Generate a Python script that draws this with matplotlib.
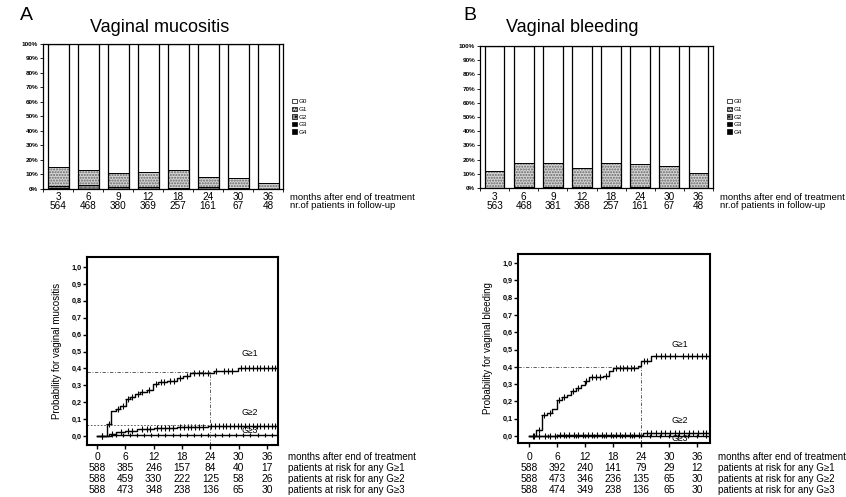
import numpy as np
import matplotlib
matplotlib.use("Agg")
import matplotlib.pyplot as plt
from matplotlib.patches import Patch
from matplotlib.transforms import blended_transform_factory

plt.rcParams['font.family'] = ['Liberation Sans', 'DejaVu Sans']

W, H = 846, 497

# follow-up distribution (% of patients per grade)
months_fu = [3, 6, 9, 12, 18, 24, 30, 36]
muc_n = [564, 468, 380, 369, 257, 161, 67, 48]
muc_g1 = [13.0, 10.5, 9.5, 10.5, 12.0, 7.0, 6.5, 4.0]
muc_g2 = [1.5, 2.5, 1.5, 1.5, 1.0, 1.5, 1.0, 0.0]
muc_g3 = [0.5, 0.0, 0.0, 0.0, 0.0, 0.0, 0.0, 0.0]
muc_g4 = [0.0, 0.0, 0.0, 0.0, 0.0, 0.0, 0.0, 0.0]

bld_n = [563, 468, 381, 368, 257, 161, 67, 48]
bld_g1 = [12.0, 17.0, 17.0, 13.5, 17.5, 16.0, 15.0, 10.5]
bld_g2 = [0.3, 0.4, 0.4, 0.5, 0.4, 0.6, 0.3, 0.2]
bld_g3 = [0.0, 0.0, 0.0, 0.0, 0.0, 0.0, 0.0, 0.0]
bld_g4 = [0.0, 0.0, 0.0, 0.0, 0.0, 0.0, 0.0, 0.0]

# cumulative incidence curves (step times in months, probability)
muc_ge1_t = [0, 2.2, 3.0, 4.0, 4.9, 6.1, 7.0, 8.0, 9.1, 10.5, 11.8, 13.0, 14.8, 16.9, 18.3, 19.7, 24.7, 29.9]
muc_ge1_p = [0, 0.07, 0.15, 0.162, 0.18, 0.221, 0.233, 0.247, 0.262, 0.273, 0.31, 0.318, 0.325, 0.342, 0.358, 0.373, 0.386, 0.403]
muc_ge2_t = [0, 2.5, 4.0, 6.0, 8.5, 12.0, 17.0, 23.5]
muc_ge2_p = [0, 0.015, 0.022, 0.032, 0.04, 0.05, 0.056, 0.062]
muc_ge3_t = [0, 3.0]
muc_ge3_p = [0, 0.004]

bld_ge1_t = [0, 1.6, 2.7, 3.8, 4.9, 5.9, 7.0, 8.1, 8.9, 10.0, 11.1, 11.9, 12.8, 15.8, 17.1, 18.0, 23.3, 24.0, 26.2]
bld_ge1_p = [0, 0.037, 0.123, 0.133, 0.158, 0.206, 0.224, 0.235, 0.262, 0.277, 0.293, 0.316, 0.34, 0.346, 0.374, 0.393, 0.403, 0.432, 0.46]
bld_ge2_t = [0, 6.0, 12.0, 24.5]
bld_ge2_p = [0, 0.004, 0.008, 0.016]
bld_ge3_t = [0, 3.0]
bld_ge3_p = [0, 0.002]

# censoring times
muc_ge1_c = [1.0, 2.6, 4.5, 5.5, 6.6, 7.5, 8.6, 9.6, 11.0, 12.4, 13.6, 14.2, 15.5, 16.2, 17.6, 19.0, 20.5, 21.5,
             22.5, 23.5, 25.3, 26.8, 27.7, 28.6, 30.6, 31.4, 32.2, 33.0, 33.8, 34.6, 35.4, 36.2, 37.0, 37.8]
muc_ge2_c = [1.0, 3.2, 5.0, 6.5, 7.5, 9.5, 10.5, 11.3, 12.6, 13.5, 14.3, 15.2, 16.0, 17.6, 18.4, 19.2, 20.0, 20.8,
             21.6, 22.4, 24.2, 25.0, 25.8, 26.6, 27.4, 28.2, 29.0, 29.8, 30.6, 31.4, 32.2, 33.0, 33.8, 34.6, 35.4,
             36.2, 37.0, 37.8]
muc_ge3_c = [4.0, 5.5, 7.0, 8.5, 10.0, 11.5, 13.0, 14.5, 16.0, 17.5, 19.0, 20.5, 22.0, 23.5, 25.0, 26.5, 28.0,
             29.5, 31.0, 32.5, 34.0, 35.5, 37.0]
bld_ge1_c = [0.8, 2.2, 3.2, 4.4, 6.5, 7.6, 9.5, 10.6, 12.3, 13.6, 14.4, 15.2, 16.5, 18.6, 19.4, 20.2, 21.0, 21.8,
             22.6, 24.6, 25.4, 27.2, 28.2, 29.2, 30.2, 31.2, 33.0, 34.0, 35.0, 36.0, 37.0, 38.0]
bld_ge2_c = [1.0, 2.2, 3.4, 4.6, 5.6, 6.6, 7.6, 8.6, 9.6, 10.6, 11.6, 12.6, 13.6, 14.6, 15.6, 16.6, 17.6, 18.6,
             19.6, 20.6, 21.6, 22.6, 23.6, 25.2, 26.2, 27.2, 28.2, 29.2, 30.2, 31.2, 32.2, 33.2, 34.2, 35.2, 36.2,
             37.2, 38.0]
bld_ge3_c = [4.0, 6.0, 8.0, 10.0, 12.0, 14.0, 16.0, 18.0, 20.0, 22.0, 24.0, 26.0, 28.0, 30.0, 32.0, 34.0, 36.0, 38.0]

km_months = [0, 6, 12, 18, 24, 30, 36]
muc_risk = [[588, 385, 246, 157, 84, 40, 17],
            [588, 459, 330, 222, 125, 58, 26],
            [588, 473, 348, 238, 136, 65, 30]]
bld_risk = [[588, 392, 240, 141, 79, 29, 12],
            [588, 473, 346, 236, 135, 65, 30],
            [588, 474, 349, 238, 136, 65, 30]]
risk_labels = ['patients at risk for any G\u22651', 'patients at risk for any G\u22652',
               'patients at risk for any G\u22653']
grade_labels = ['G0', 'G1', 'G2', 'G3', 'G4']


def px_axes(fig, left, top, right, bottom):
    return fig.add_axes([left / W, 1 - bottom / H, (right - left) / W, (bottom - top) / H])


def ftext(fig, x, y, s, **kw):
    fig.text(x / W, 1 - y / H, s, **kw)


grade_styles = [
    dict(color='white', hatch=None),
    dict(color='#d4d4d4', hatch='......'),
    dict(color='#8c8c8c', hatch='....'),
    dict(color='black', hatch=None),
    dict(color='black', hatch=None),
]


def bar_panel(fig, rect, g1, g2, g3, g4, n, xlim, width, legend_x, label_x):
    ax = px_axes(fig, *rect)
    x = np.arange(len(months_fu))
    g1, g2, g3, g4 = map(np.array, (g1, g2, g3, g4))
    g0 = 100 - g1 - g2 - g3 - g4
    # stacked from the worst grade at the bottom to G0 at the top
    bottom = np.zeros(len(x))
    for vals, st in [(g4, grade_styles[4]), (g3, grade_styles[3]), (g2, grade_styles[2]),
                     (g1, grade_styles[1]), (g0, grade_styles[0])]:
        ax.bar(x, vals, width, bottom=bottom, color=st['color'], hatch=st['hatch'],
               edgecolor='#666666', linewidth=0)
        ax.bar(x, vals, width, bottom=bottom, fill=False, edgecolor='black', linewidth=0.6)
        bottom = bottom + vals
    ax.bar(x, 100, width, fill=False, edgecolor='black', linewidth=0.9)
    ax.set_xlim(*xlim)
    ax.set_ylim(0, 100)
    ax.set_yticks(np.arange(0, 101, 10))
    ax.set_yticklabels([f'{v}%' for v in range(0, 101, 10)], fontsize=4.6, fontweight='bold')
    ax.set_xticks(np.arange(-0.5, len(x), 1.0))
    ax.set_xticklabels([])
    ax.tick_params(axis='both', direction='out', length=2.5, width=0.6, pad=1)
    for s in ax.spines.values():
        s.set_linewidth(0.9)
    trans = blended_transform_factory(ax.transData, fig.transFigure)
    for xi, m, c in zip(x, months_fu, n):
        ax.text(xi, 1 - 197 / H, str(m), transform=trans, ha='center', va='center', fontsize=7.2)
        ax.text(xi, 1 - 206 / H, str(c), transform=trans, ha='center', va='center', fontsize=7.2)
    ftext(fig, label_x, 197, 'months after end of treatment', ha='left', va='center', fontsize=6.8)
    ftext(fig, label_x, 206, 'nr.of patients in follow-up', ha='left', va='center', fontsize=6.8)
    handles = [Patch(facecolor=st['color'], hatch=st['hatch'], edgecolor='black', linewidth=0.5)
               for st in grade_styles]
    fig.legend(handles, grade_labels, loc='upper left', bbox_to_anchor=(legend_x / W, 1 - 96 / H),
               frameon=False, fontsize=4.5, handlelength=0.7, handleheight=0.7, handletextpad=0.3,
               labelspacing=0.35, borderpad=0)
    return ax


def km_panel(fig, rect, xlim, ylim, curves, ref_hi, ref_lo, lab_y, risk, ylabel, label_x, ylabel_x):
    ax = px_axes(fig, *rect)
    for t, p, c, ms in curves:
        t = np.array(t)
        p = np.array(p)
        ax.step(np.append(t, xlim[1]), np.append(p, p[-1]), where='post', color='black', lw=1.0)
        c = np.array(c)
        pc = p[np.searchsorted(t, c, side='right') - 1]
        ax.plot(c, pc, ls='none', marker='+', color='black', ms=ms, mew=0.8)
    # reference lines at 24 months
    ax.plot([xlim[0], 24], [ref_hi, ref_hi], color='#444444', lw=0.6, ls=(0, (4, 2, 1, 2)))
    ax.plot([24, 24], [ylim[0], ref_hi], color='#444444', lw=0.6, ls=(0, (4, 2, 1, 2)))
    if ref_lo is not None:
        ax.plot([xlim[0], 24], [ref_lo, ref_lo], color='#444444', lw=0.6, ls=(0, (2, 2)))
    for lbl, yy in zip(['G\u22651', 'G\u22652', 'G\u22653'], lab_y):
        ax.text(32.3, yy, lbl, ha='center', va='center', fontsize=6.3)
    ax.set_xlim(*xlim)
    ax.set_ylim(*ylim)
    ax.set_xticks(km_months)
    ax.set_xticklabels([])
    ax.set_yticks(np.arange(0, 1.01, 0.1))
    ax.set_yticklabels([f'{v:.1f}'.replace('.', ',') for v in np.arange(0, 1.01, 0.1)],
                       fontsize=5.2, fontweight='bold')
    ax.tick_params(axis='both', direction='out', length=3, width=1.0, pad=1)
    for s in ax.spines.values():
        s.set_linewidth(1.5)
    ax.set_ylabel(ylabel, fontsize=7)
    ax.yaxis.set_label_coords((ylabel_x - rect[0]) / (rect[2] - rect[0]), 0.5)
    trans = blended_transform_factory(ax.transData, fig.transFigure)
    rows_y = [457, 468, 479, 490]
    for m in km_months:
        ax.text(m, 1 - rows_y[0] / H, str(m), transform=trans, ha='center', va='center', fontsize=7.4)
    for row, yy in zip(risk, rows_y[1:]):
        for m, v in zip(km_months, row):
            ax.text(m, 1 - yy / H, str(v), transform=trans, ha='center', va='center', fontsize=7.4)
    ftext(fig, label_x, rows_y[0], 'months after end of treatment', ha='left', va='center', fontsize=7)
    for lbl, yy in zip(risk_labels, rows_y[1:]):
        ftext(fig, label_x, yy, lbl, ha='left', va='center', fontsize=7)
    return ax


fig = plt.figure(figsize=(W / 100, H / 100), dpi=100)

ftext(fig, 20, 16, 'A', fontsize=14, ha='left', va='center')
ftext(fig, 160, 28, 'Vaginal mucositis', fontsize=13, ha='center', va='center')
ftext(fig, 463, 16, 'B', fontsize=14, ha='left', va='center')
ftext(fig, 572, 28, 'Vaginal bleeding', fontsize=13, ha='center', va='center')

bar_panel(fig, (43, 44, 283, 189), muc_g1, muc_g2, muc_g3, muc_g4, muc_n,
          (-0.5, 7.5), 0.7, 289, 290)
bar_panel(fig, (480, 46, 713, 188), bld_g1, bld_g2, bld_g3, bld_g4, bld_n,
          (-0.34, 7.34), 0.68, 724, 720)

km_panel(fig, (87, 257, 278, 445), (-2.12, 38.33), (-0.053, 1.059),
         [(muc_ge1_t, muc_ge1_p, muc_ge1_c, 4), (muc_ge2_t, muc_ge2_p, muc_ge2_c, 4),
          (muc_ge3_t, muc_ge3_p, muc_ge3_c, 3)],
         0.379, 0.065, [0.49, 0.14, 0.033], muc_risk, 'Probability for vaginal mucositis', 288, 62)
km_panel(fig, (518, 254, 710, 443), (-2.36, 38.8), (-0.04, 1.052),
         [(bld_ge1_t, bld_ge1_p, bld_ge1_c, 4), (bld_ge2_t, bld_ge2_p, bld_ge2_c, 4),
          (bld_ge3_t, bld_ge3_p, bld_ge3_c, 3)],
         0.399, None, [0.53, 0.09, -0.012], bld_risk, 'Probability for vaginal bleeding', 718, 493)

fig.savefig('out.png', dpi=100)
